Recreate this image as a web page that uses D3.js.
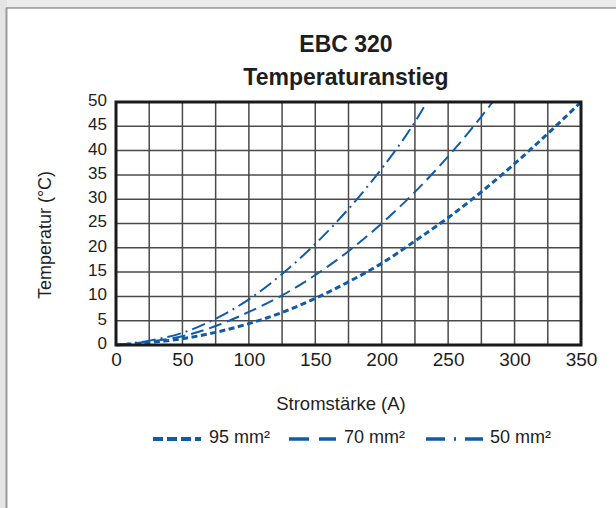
<!DOCTYPE html>
<html><head><meta charset="utf-8">
<script src="https://cdn.jsdelivr.net/npm/d3@7"></script>
<style>
html,body{margin:0;padding:0;background:#ebebeb;}
svg{display:block;font-family:"Liberation Sans",Arial,sans-serif;}
</style></head>
<body><svg id="c" width="616" height="508"></svg>
<script>
const title = ["EBC 320", "Temperaturanstieg"];
const xLabel = "Stromstärke (A)";
const yLabel = "Temperatur (°C)";
const xTicks = [0, 50, 100, 150, 200, 250, 300, 350];
const yTicks = [0, 5, 10, 15, 20, 25, 30, 35, 40, 45, 50];
const seriesNames = ["95 mm²", "70 mm²", "50 mm²"];
const current95 = [0, 25, 50, 75, 100, 125, 150, 175, 200, 225, 250, 275, 300, 325, 350];
const temp95    = [0, 0.5, 1.3, 2.6, 4.4, 6.7, 9.6, 13, 16.8, 21.4, 26.2, 31.5, 37.3, 43.5, 50];
const current70 = [0, 25, 50, 75, 100, 125, 150, 175, 200, 225, 250, 275, 283.5];
const temp70    = [0, 0.7, 1.8, 3.9, 6.8, 10.2, 14.4, 19.3, 25, 31.5, 38.8, 47, 50];
const current50 = [0, 25, 50, 75, 100, 125, 150, 175, 200, 225, 234];
const temp50    = [0, 0.9, 2.5, 5.4, 9.4, 14.6, 20.8, 28, 36.3, 45.9, 50];

const svg = d3.select("#c");
// paper frame
svg.append("rect").attr("x",0).attr("y",0).attr("width",7).attr("height",508).attr("fill","#e4e4e4");
svg.append("rect").attr("x",7).attr("y",8).attr("width",620).attr("height",520).attr("fill","#fff");
svg.append("line").attr("x1",6).attr("x2",616).attr("y1",8).attr("y2",8).attr("stroke","#666").attr("stroke-width",1);
svg.append("line").attr("x1",6.5).attr("x2",6.5).attr("y1",8).attr("y2",508).attr("stroke","#9a9a9a").attr("stroke-width",2);

const L=116, R=581, T=102, B=345;
const x = d3.scaleLinear().domain([0,350]).range([L,R]);
const y = d3.scaleLinear().domain([0,50]).range([B,T]);
const color = "#0f5caa";
const textColor = "#1e1e1e";

const g = svg.append("g");
// grid
d3.range(25, 350, 25).forEach(v => g.append("line").attr("x1",x(v)).attr("x2",x(v)).attr("y1",T).attr("y2",B).attr("stroke","#4a4a4a").attr("stroke-width",1.5));
d3.range(5, 50, 5).forEach(v => g.append("line").attr("x1",L).attr("x2",R).attr("y1",y(v)).attr("y2",y(v)).attr("stroke","#4a4a4a").attr("stroke-width",1.5));

// series
const series = [
  {name: seriesNames[0], xs: current95, ys: temp95, dash: "6,3.5", w: 3, leg: "10,4", lw: 4},
  {name: seriesNames[1], xs: current70, ys: temp70, dash: "13,6", w: 2, leg: "20,10", lw: 3.5},
  {name: seriesNames[2], xs: current50, ys: temp50, dash: "14,5,2,5", w: 2, leg: "19,9,2,9", lw: 3.5}
];
const line = d3.line().x(d=>x(d[0])).y(d=>y(d[1])).curve(d3.curveMonotoneX);
series.forEach(s => {
  g.append("path").datum(s.xs.map((v,i)=>[v, s.ys[i]]))
   .attr("d", line).attr("fill","none").attr("stroke",color)
   .attr("stroke-width",s.w).attr("stroke-dasharray",s.dash);
});

// border
g.append("rect").attr("x",L).attr("y",T).attr("width",R-L).attr("height",B-T)
  .attr("fill","none").attr("stroke","#1a1a1a").attr("stroke-width",3);

// axes labels
const xAxis = d3.axisBottom(x).tickValues(xTicks).tickSize(0).tickPadding(7);
const xa = svg.append("g").attr("transform",`translate(0,${B+1})`).call(xAxis);
xa.select(".domain").remove();
xa.selectAll("text").attr("font-size",19).attr("fill",textColor).attr("font-family","Liberation Sans, Arial, sans-serif");
const yAxis = d3.axisLeft(y).tickValues(yTicks).tickSize(0).tickPadding(9);
const ya = svg.append("g").attr("transform",`translate(${L},-2)`).call(yAxis);
ya.select(".domain").remove();
ya.selectAll("text").attr("font-size",17).attr("fill",textColor).attr("font-family","Liberation Sans, Arial, sans-serif");

// titles
svg.append("text").attr("x",346).attr("y",52).attr("text-anchor","middle").attr("font-size",23).attr("font-weight","bold").attr("fill",textColor).text(title[0]);
svg.append("text").attr("x",346).attr("y",85).attr("text-anchor","middle").attr("font-size",23).attr("font-weight","bold").attr("fill",textColor).text(title[1]);
svg.append("text").attr("x",341).attr("y",410).attr("text-anchor","middle").attr("font-size",18.5).attr("fill",textColor).text(xLabel);
svg.append("text").attr("transform","translate(51,235) rotate(-90)").attr("text-anchor","middle").attr("font-size",18).attr("fill",textColor).text(yLabel);

// legend
const legX = [{x1:153,x2:201,t:209},{x1:289,x2:336,t:344},{x1:426,x2:483,t:490}];
series.forEach((s,i) => {
  const p = legX[i];
  svg.append("line").attr("x1",p.x1).attr("x2",p.x2).attr("y1",439).attr("y2",439)
    .attr("stroke",color).attr("stroke-width",s.lw).attr("stroke-dasharray", s.leg);
  svg.append("text").attr("x",p.t).attr("y",443).attr("font-size",18).attr("fill",textColor).text(s.name);
});
</script></body></html>
